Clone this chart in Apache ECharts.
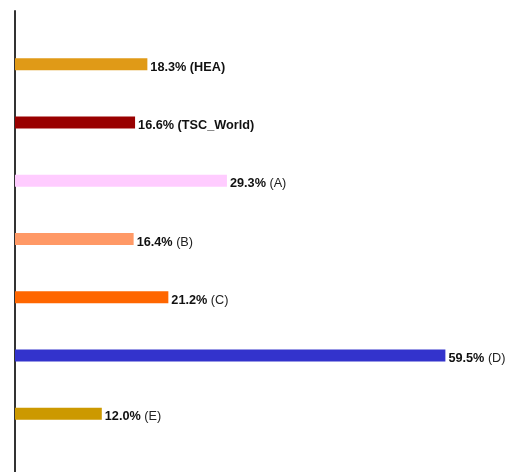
<!DOCTYPE html>
<html><head><meta charset="utf-8">
<script src="https://cdn.jsdelivr.net/npm/echarts@6/dist/echarts.min.js"></script>
<style>html,body{margin:0;padding:0;background:#fff}#c{width:515px;height:472px}</style>
</head><body><div id="c"></div>
<script>
const categories = ['HEA', 'TSC_World', 'A', 'B', 'C', 'D', 'E'];
const values = [18.3, 16.6, 29.3, 16.4, 21.2, 59.5, 12.0];
const colors = ['#e09a17', '#990000', '#ffccff', '#ff9966', '#ff6600', '#3333cc', '#cc9900'];
const boldNames = ['HEA', 'TSC_World'];

const FONT = 'Liberation Sans, Arial, sans-serif';
const chart = echarts.init(document.getElementById('c'), null, {renderer: 'canvas'});
chart.setOption({
  animation: false,
  grid: [
    {left: 15, top: 35, height: 408, width: 434, containLabel: false},
    {left: 15, top: 11, bottom: 0, width: 434, containLabel: false}
  ],
  xAxis: [
    {gridIndex: 0, type: 'value', min: 0, max: 60, show: false},
    {gridIndex: 1, type: 'value', min: 0, max: 60, show: false}
  ],
  yAxis: [
    {gridIndex: 0, type: 'category', inverse: true, data: categories,
     axisLine: {show: false}, axisTick: {show: false}, axisLabel: {show: false}, splitLine: {show: false}},
    {gridIndex: 1, type: 'value', min: 0, max: 1,
     axisLine: {show: true, lineStyle: {color: '#333', width: 2}},
     axisTick: {show: false}, axisLabel: {show: false}, splitLine: {show: false}}
  ],
  series: [{
    type: 'bar', xAxisIndex: 0, yAxisIndex: 0,
    barWidth: 12,
    data: values.map((v, i) => ({value: v, itemStyle: {color: colors[i]}})),
    label: {
      show: true, position: 'right', distance: 3, offset: [0, 3],
      fontFamily: FONT, fontSize: 12.7,
      formatter: p => {
        const name = categories[p.dataIndex];
        const v = values[p.dataIndex].toFixed(1) + '%';
        return boldNames.includes(name) ? '{b|' + v + ' (' + name + ')}' : '{b|' + v + '} {n|(' + name + ')}';
      },
      rich: {
        b: {fontWeight: 'bold', color: '#111', fontSize: 12.7, fontFamily: FONT},
        n: {fontWeight: 'normal', color: '#222', fontSize: 12.7, fontFamily: FONT}
      }
    }
  }]
});
</script></body></html>
